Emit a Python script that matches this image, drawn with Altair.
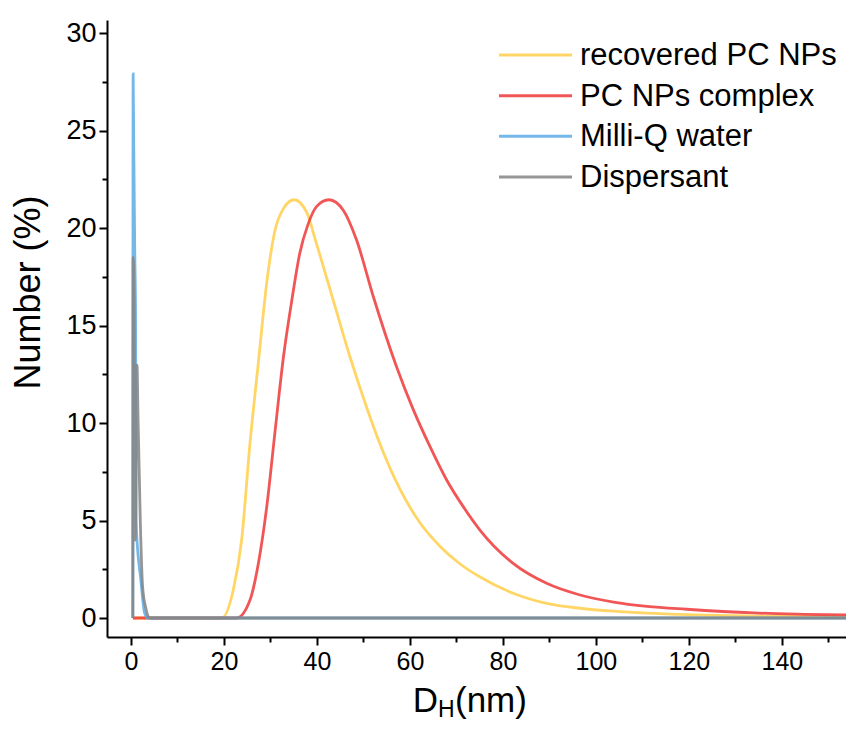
import altair as alt
import pandas as pd

series_names = ["recovered PC NPs", "PC NPs complex", "Milli-Q water", "Dispersant"]
series_colors = ["#FFCF4A", "#EF3838", "#5AACE4", "#848484"]

# recovered PC NPs
rec_x = [0.4, 19.5, 22.0, 23.8, 25.6, 27.4, 29.2, 31.0, 32.8, 35.1, 37.8, 39.9, 43.5, 47.1,
         50.7, 53.5, 57.8, 62.2, 66.5, 70.8, 75.1, 82.2, 89.4, 96.6, 103.8, 111.0, 120.0, 134.0, 160.0]
rec_y = [0.0, 0.0, 1.44, 4.0, 8.97, 13.1, 17.2, 19.9, 21.0, 21.45, 20.8, 19.2, 16.3, 13.4,
         10.8, 8.96, 6.63, 4.87, 3.67, 2.77, 2.1, 1.27, 0.75, 0.50, 0.35, 0.25, 0.17, 0.1, 0.04]

# PC NPs complex
cpx_x = [0.4, 22.7, 25.6, 27.4, 29.2, 31.0, 32.8, 34.6, 36.3, 38.1, 39.9, 42.6, 45.7, 48.5,
         52.1, 57.1, 60.7, 64.3, 67.9, 71.5, 75.1, 82.2, 89.4, 96.6, 103.8, 111.0, 119.5, 134.0, 145.0, 160.0]
cpx_y = [0.0, 0.0, 0.92, 2.8, 5.7, 9.6, 13.4, 16.3, 18.7, 20.2, 21.1, 21.45, 20.9, 19.4,
         16.5, 12.9, 10.7, 8.8, 7.08, 5.7, 4.5, 2.8, 1.78, 1.18, 0.82, 0.6, 0.45, 0.26, 0.19, 0.13]

# Milli-Q water
mq_x = [0.4, 0.46, 0.6, 0.8, 1.0, 1.12, 1.5, 1.8, 2.1, 2.5, 2.8, 3.2, 3.6, 160.0]
mq_y = [0.0, 27.9, 24.0, 19.0, 15.0, 5.0, 3.3, 2.6, 2.0, 1.0, 0.4, 0.1, 0.0, 0.0]

# Dispersant
dis_x = [0.4, 0.46, 0.65, 0.9, 1.3, 1.5, 2.0, 2.5, 3.2, 3.8, 4.2, 160.0]
dis_y = [0.0, 18.5, 17.0, 4.0, 12.97, 10.5, 5.0, 1.6, 0.5, 0.05, 0.0, 0.0]

x_ticks = [0, 10, 20, 30, 40, 50, 60, 70, 80, 90, 100, 110, 120, 130, 140, 150]
y_ticks = [0, 2.5, 5, 7.5, 10, 12.5, 15, 17.5, 20, 22.5, 25, 27.5, 30]

rows = []
for name, xs, ys in zip(series_names, [rec_x, cpx_x, mq_x, dis_x], [rec_y, cpx_y, mq_y, dis_y]):
    for i, (a, b) in enumerate(zip(xs, ys)):
        rows.append({"series": name, "x": a, "y": b, "i": i})
df = pd.DataFrame(rows)
legend_df = pd.DataFrame({"series": series_names})

FONT = "Liberation Sans"

x_scale = alt.Scale(domain=[-5.16, 153.8], nice=False, zero=False)
y_scale = alt.Scale(domain=[-0.974, 30.67], nice=False, zero=False)
color_scale = alt.Scale(domain=series_names, range=series_colors)

x_axis = alt.Axis(
    values=x_ticks,
    labelExpr="datum.value % 20 === 0 ? datum.label : ''",
    tickSize={"condition": {"test": "datum.value % 20 !== 0", "value": 5}, "value": 8},
    title=None, grid=False, labelFontSize=25, labelFont=FONT, labelColor="black",
    labelPadding=4, domainColor="black", domainWidth=2, tickColor="black", tickWidth=2,
    labelFlush=False, labelOverlap=False,
)
y_axis = alt.Axis(
    values=y_ticks,
    labelExpr="datum.value % 5 === 0 ? datum.label : ''",
    tickSize={"condition": {"test": "datum.value % 5 !== 0", "value": 5}, "value": 8},
    title="Number (%)", titleFontSize=36, titleFont=FONT, titleFontWeight="normal",
    titleColor="black", titleX=-79, titleY=272, titleBaseline="middle", titleAlign="center",
    grid=False, labelFontSize=27, labelFont=FONT, labelColor="black", labelPadding=3,
    domainColor="black", domainWidth=2, tickColor="black", tickWidth=2,
    labelFlush=False, labelOverlap=False,
)

line_layers = []
for name in series_names:
    line_layers.append(
        alt.Chart(df).transform_filter(alt.datum.series == name).mark_line(
            strokeWidth=2.8, opacity=0.85, interpolate="monotone", clip=True
        ).encode(
            x=alt.X("x:Q", scale=x_scale, axis=x_axis),
            y=alt.Y("y:Q", scale=y_scale, axis=y_axis),
            color=alt.Color("series:N", scale=color_scale, legend=None),
            order="i:Q",
        )
    )
lines = alt.layer(*line_layers)

leg_y = alt.Y("series:N", scale=alt.Scale(type="point", domain=series_names, range=[35, 157], padding=0), axis=None)
leg_rules = alt.Chart(legend_df).mark_rule(strokeWidth=3, opacity=0.85).encode(
    x=alt.value(392), x2=alt.value(465), y=leg_y,
    color=alt.Color("series:N", scale=color_scale, legend=None),
)
leg_text = alt.Chart(legend_df).mark_text(
    font=FONT, fontSize=31, align="left", baseline="middle", color="black", dy=1
).encode(x=alt.value(473), y=leg_y, text="series:N")
legend = alt.layer(leg_rules, leg_text)

t_d = alt.Chart(pd.DataFrame({"t": ["D"]})).mark_text(
    font=FONT, fontSize=35, align="right", baseline="alphabetic", color="black"
).encode(text="t:N", x=alt.value(331), y=alt.value(692))
t_h = alt.Chart(pd.DataFrame({"t": ["H"]})).mark_text(
    font=FONT, fontSize=23, align="left", baseline="alphabetic", color="black"
).encode(text="t:N", x=alt.value(331), y=alt.value(697))
t_nm = alt.Chart(pd.DataFrame({"t": ["(nm)"]})).mark_text(
    font=FONT, fontSize=35, align="left", baseline="alphabetic", color="black"
).encode(text="t:N", x=alt.value(348), y=alt.value(692))

chart = alt.layer(lines, legend, t_d, t_h, t_nm).resolve_scale(y="independent").properties(
    width=739, height=617,
    autosize=alt.AutoSizeParams(type="none"),
    padding={"left": 99, "top": 12, "right": 0, "bottom": 86},
    background="white",
).configure_view(stroke=None)

chart.save("out.html", embed_options={"renderer": "svg", "actions": False})
